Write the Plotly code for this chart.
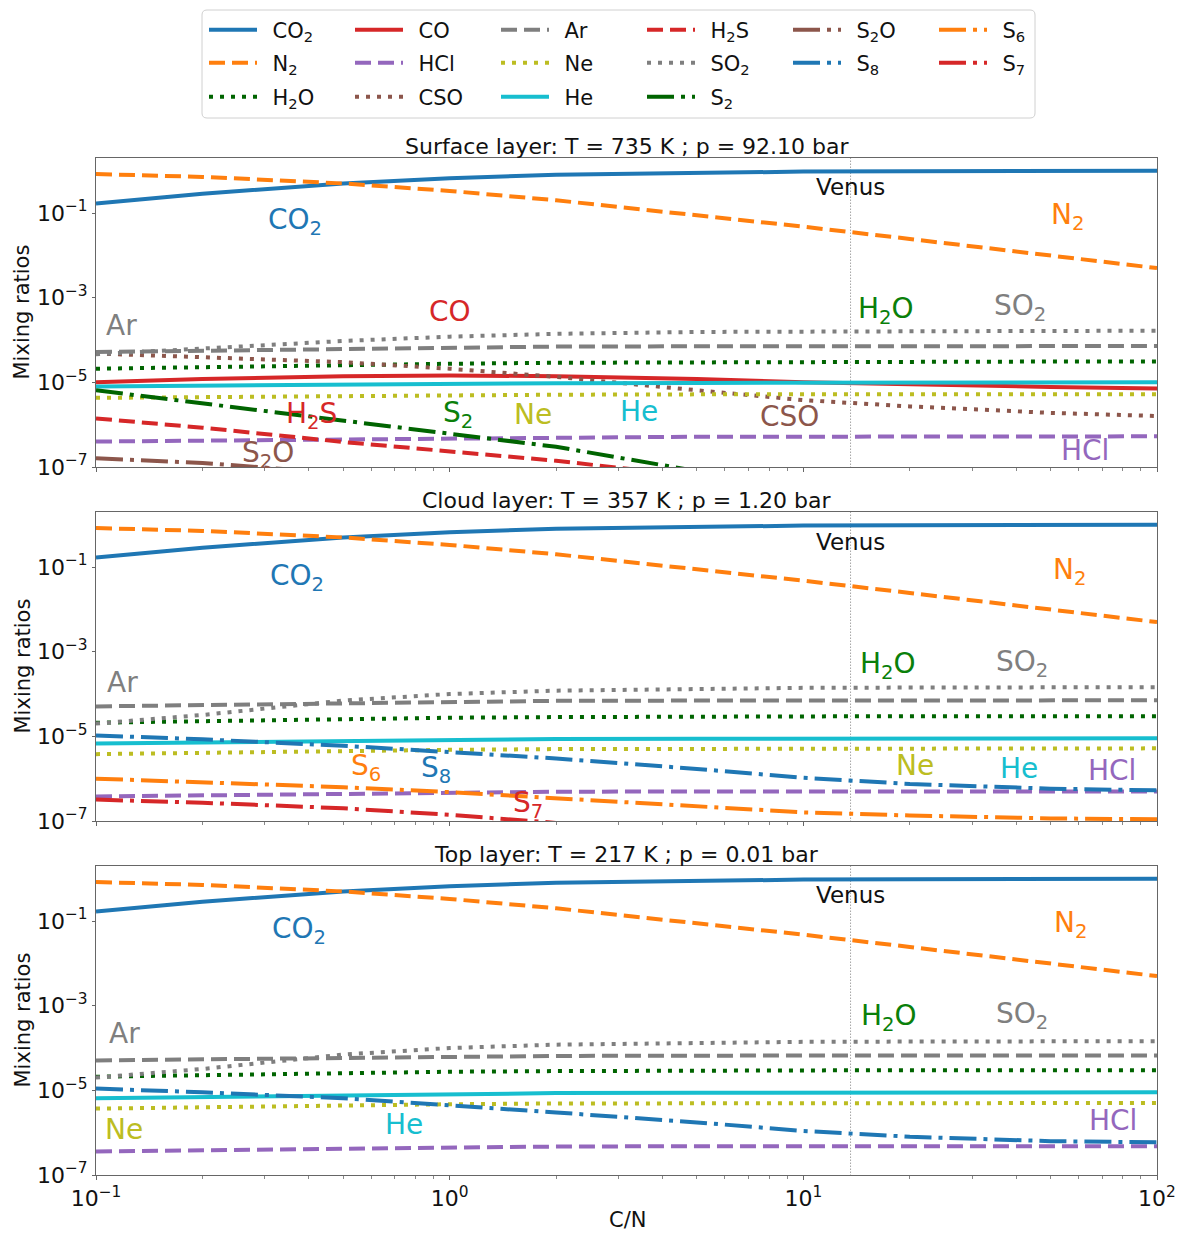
import numpy as np
import plotly.graph_objects as go

# ---------------- data ----------------
CN = [0.1, 0.2, 0.5, 1, 2, 5, 10, 20, 50, 100]
VENUS_CN = 13.6

CO2 = [0.167, 0.286, 0.5, 0.667, 0.8, 0.909, 0.952, 0.976, 0.990, 0.995]
N2 = [0.833, 0.714, 0.5, 0.333, 0.2, 0.0909, 0.0476, 0.0244, 0.0099, 0.0050]

# Surface layer
AR_SURF = [5.2e-5, 5.6e-5, 6.2e-5, 6.7e-5, 7.0e-5, 7.1e-5, 7.2e-5, 7.2e-5, 7.2e-5, 7.2e-5]
SO2_SURF = [4.6e-5, 6.2e-5, 9.5e-5, 1.2e-4, 1.4e-4, 1.55e-4, 1.6e-4, 1.62e-4, 1.64e-4, 1.65e-4]
H2O_SURF = [2.1e-5, 2.3e-5, 2.6e-5, 2.75e-5, 2.9e-5, 3.0e-5, 3.05e-5, 3.1e-5, 3.1e-5, 3.1e-5]
CO_SURF = [1.0e-5, 1.2e-5, 1.4e-5, 1.45e-5, 1.4e-5, 1.2e-5, 1.0e-5, 8.8e-6, 7.8e-6, 7.2e-6]
HE_SURF = [8.0e-6, 8.4e-6, 8.9e-6, 9.2e-6, 9.5e-6, 9.7e-6, 9.8e-6, 9.9e-6, 1.0e-5, 1.0e-5]
NE_SURF = [4.3e-6, 4.5e-6, 4.8e-6, 5.0e-6, 5.1e-6, 5.2e-6, 5.2e-6, 5.2e-6, 5.2e-6, 5.2e-6]
CSO_SURF = [4.8e-5, 4.0e-5, 3.0e-5, 2.1e-5, 1.35e-5, 6.5e-6, 3.8e-6, 2.7e-6, 1.9e-6, 1.6e-6]
H2S_SURF = [1.4e-6, 8.5e-7, 3.9e-7, 2.4e-7, 1.4e-7, 6.0e-8, 3.5e-8, 2.0e-8, 1.0e-8, 5.0e-9]
S2_SURF = [6.5e-6, 3.2e-6, 1.3e-6, 6.3e-7, 3.0e-7, 8.0e-8, 2.0e-8, 5.0e-9, 1.0e-9, 3.0e-10]
HCL_SURF = [4.0e-7, 4.2e-7, 4.6e-7, 4.9e-7, 5.1e-7, 5.2e-7, 5.2e-7, 5.3e-7, 5.3e-7, 5.3e-7]
S2O_SURF = [1.6e-7, 1.25e-7, 7.0e-8, 4.0e-8, 2.0e-8, 8.0e-9, 4.0e-9, 2.0e-9, 8.0e-10, 4.0e-10]

# Cloud layer
AR_CLOUD = [5.1e-5, 5.5e-5, 6.1e-5, 6.6e-5, 6.9e-5, 7.0e-5, 7.1e-5, 7.1e-5, 7.1e-5, 7.1e-5]
SO2_CLOUD = [2.0e-5, 3.2e-5, 7.0e-5, 1.0e-4, 1.2e-4, 1.35e-4, 1.4e-4, 1.42e-4, 1.44e-4, 1.45e-4]
H2O_CLOUD = [2.1e-5, 2.3e-5, 2.6e-5, 2.75e-5, 2.85e-5, 2.95e-5, 3.0e-5, 3.0e-5, 3.0e-5, 3.0e-5]
HE_CLOUD = [6.8e-6, 7.2e-6, 7.8e-6, 8.3e-6, 8.6e-6, 8.8e-6, 8.9e-6, 9.0e-6, 9.0e-6, 9.0e-6]
NE_CLOUD = [3.8e-6, 4.1e-6, 4.5e-6, 4.8e-6, 5.0e-6, 5.1e-6, 5.2e-6, 5.2e-6, 5.2e-6, 5.2e-6]
S8_CLOUD = [1.05e-5, 8.5e-6, 6.0e-6, 4.3e-6, 3.0e-6, 1.7e-6, 1.05e-6, 7.5e-7, 5.8e-7, 5.3e-7]
S6_CLOUD = [1.0e-6, 8.3e-7, 6.3e-7, 4.8e-7, 3.4e-7, 2.2e-7, 1.6e-7, 1.35e-7, 1.15e-7, 1.1e-7]
S7_CLOUD = [3.2e-7, 2.7e-7, 2.0e-7, 1.4e-7, 9.0e-8, 4.0e-8, 2.0e-8, 1.0e-8, 4.0e-9, 2.0e-9]
HCL_CLOUD = [3.8e-7, 4.0e-7, 4.4e-7, 4.7e-7, 4.9e-7, 5.0e-7, 5.0e-7, 5.0e-7, 5.0e-7, 5.0e-7]

# Top layer
AR_TOP = [5.1e-5, 5.4e-5, 5.9e-5, 6.3e-5, 6.5e-5, 6.6e-5, 6.7e-5, 6.7e-5, 6.7e-5, 6.7e-5]
SO2_TOP = [2.0e-5, 3.2e-5, 7.0e-5, 1.0e-4, 1.2e-4, 1.35e-4, 1.4e-4, 1.42e-4, 1.44e-4, 1.45e-4]
H2O_TOP = [2.1e-5, 2.3e-5, 2.6e-5, 2.75e-5, 2.85e-5, 2.95e-5, 3.0e-5, 3.0e-5, 3.0e-5, 3.0e-5]
HE_TOP = [6.5e-6, 7.0e-6, 7.7e-6, 8.2e-6, 8.6e-6, 8.8e-6, 8.9e-6, 9.0e-6, 9.0e-6, 9.0e-6]
NE_TOP = [3.7e-6, 4.0e-6, 4.4e-6, 4.7e-6, 4.9e-6, 5.0e-6, 5.0e-6, 5.0e-6, 5.0e-6, 5.0e-6]
S8_TOP = [1.1e-5, 9.0e-6, 6.5e-6, 4.5e-6, 3.0e-6, 1.75e-6, 1.1e-6, 8.0e-7, 6.3e-7, 5.9e-7]
HCL_TOP = [3.6e-7, 3.8e-7, 4.2e-7, 4.5e-7, 4.7e-7, 4.8e-7, 4.8e-7, 4.8e-7, 4.8e-7, 4.8e-7]

PANEL_TITLES = ["Surface layer: T = 735 K ; p = 92.10 bar",
                "Cloud layer: T = 357 K ; p = 1.20 bar",
                "Top layer: T = 217 K ; p = 0.01 bar"]

PANELS = [
    {"CO2": CO2, "N2": N2, "H2O": H2O_SURF, "CO": CO_SURF, "HCl": HCL_SURF,
     "CSO": CSO_SURF, "Ar": AR_SURF, "Ne": NE_SURF, "He": HE_SURF,
     "H2S": H2S_SURF, "SO2": SO2_SURF, "S2": S2_SURF, "S2O": S2O_SURF},
    {"CO2": CO2, "N2": N2, "H2O": H2O_CLOUD, "HCl": HCL_CLOUD, "Ar": AR_CLOUD,
     "Ne": NE_CLOUD, "He": HE_CLOUD, "SO2": SO2_CLOUD, "S8": S8_CLOUD,
     "S6": S6_CLOUD, "S7": S7_CLOUD},
    {"CO2": CO2, "N2": N2, "H2O": H2O_TOP, "HCl": HCL_TOP, "Ar": AR_TOP,
     "Ne": NE_TOP, "He": HE_TOP, "SO2": SO2_TOP, "S8": S8_TOP},
]

SPECIES = ["CO2", "N2", "H2O", "CO", "HCl", "CSO", "Ar", "Ne", "He",
           "H2S", "SO2", "S2", "S2O", "S8", "S6", "S7"]
NAMES = {"CO2": "CO<sub>2</sub>", "N2": "N<sub>2</sub>", "H2O": "H<sub>2</sub>O",
         "CO": "CO", "HCl": "HCl", "CSO": "CSO", "Ar": "Ar", "Ne": "Ne", "He": "He",
         "H2S": "H<sub>2</sub>S", "SO2": "SO<sub>2</sub>", "S2": "S<sub>2</sub>",
         "S2O": "S<sub>2</sub>O", "S8": "S<sub>8</sub>", "S6": "S<sub>6</sub>",
         "S7": "S<sub>7</sub>"}

# label positions (C/N, mixing ratio) for each panel
LABELS = [
    [("CO2", 0.366, 0.062), ("N2", 56, 0.085), ("CO", 1.0, 4.7e-4), ("Ar", 0.118, 2.2e-4),
     ("H2O", 17.1, 4.9e-4), ("SO2", 40.9, 5.8e-4), ("H2S", 0.408, 1.66e-6),
     ("S2", 1.055, 1.77e-6), ("Ne", 1.72, 1.77e-6), ("He", 3.43, 2.1e-6),
     ("CSO", 9.16, 1.58e-6), ("S2O", 0.306, 2.0e-7), ("HCl", 62.5, 2.4e-7)],
    [("CO2", 0.37, 0.056), ("N2", 56.5, 0.078), ("Ar", 0.119, 1.9e-4), ("H2O", 17.3, 4.7e-4),
     ("SO2", 41.4, 5.2e-4), ("S6", 0.58, 1.85e-6), ("S8", 0.914, 1.66e-6),
     ("S7", 1.66, 2.5e-7), ("Ne", 20.7, 2.1e-6), ("He", 40.7, 1.77e-6), ("HCl", 74.5, 1.58e-6)],
    [("CO2", 0.375, 0.06), ("N2", 57, 0.083), ("Ar", 0.12, 2.2e-4), ("H2O", 17.5, 5.2e-4),
     ("SO2", 41.6, 5.9e-4), ("Ne", 0.12, 1.2e-6), ("He", 0.743, 1.58e-6), ("HCl", 75, 1.96e-6)],
]
VENUS_LABEL_Y = [0.41, 0.40, 0.41]

# ---------------- styles ----------------
DASH = "16px,7px"
DOT = "4px,7px"
DASHDOT = "27px,7px,4px,7px"
STYLE = {
    "CO2": ("#1f77b4", "solid"), "N2": ("#ff7f0e", DASH), "H2O": ("#006400", DOT),
    "CO": ("#d62728", "solid"), "HCl": ("#9467bd", DASH), "CSO": ("#8c564b", DOT),
    "Ar": ("#7f7f7f", DASH), "Ne": ("#bcbd22", DOT), "He": ("#17becf", "solid"),
    "H2S": ("#d62728", DASH), "SO2": ("#7f7f7f", DOT), "S2": ("#006400", DASHDOT),
    "S2O": ("#8c564b", DASHDOT), "S8": ("#1f77b4", DASHDOT), "S6": ("#ff7f0e", DASHDOT),
    "S7": ("#d62728", DASHDOT),
}
LABEL_COLOR = {k: v[0] for k, v in STYLE.items()}
LABEL_COLOR["H2O"] = "#0a800a"
LABEL_COLOR["S2"] = "#0a800a"

LEGEND_ROWS = [["CO2", "CO", "Ar", "H2S", "S2O", "S6"],
               ["N2", "HCl", "Ne", "SO2", "S8", "S7"],
               ["H2O", "CSO", "He", "S2"]]
LEG_OF = {}
for r, row in enumerate(LEGEND_ROWS):
    for c, sp in enumerate(row):
        LEG_OF[sp] = ("legend" if r == 0 else f"legend{r + 1}", c)

FONT = "DejaVu Sans"
W, H = 1184, 1233
ML, MR = 96, 27
PW = W - ML - MR
PANEL_PX = [(158, 467), (512, 821), (866, 1175)]


def py(px):
    return 1 - px / H


def pxx(px):
    return (px - ML) / PW


fig = go.Figure()
shown = set()
for p, data in enumerate(PANELS):
    sfx = "" if p == 0 else str(p + 1)
    # Venus reference line
    fig.add_trace(go.Scatter(x=[VENUS_CN, VENUS_CN], y=[1e-9, 10], mode="lines",
                             line=dict(color="#777777", width=1, dash="1px,2px"),
                             showlegend=False, hoverinfo="skip",
                             xaxis="x" + sfx, yaxis="y" + sfx))
    for sp in SPECIES:
        if sp not in data:
            continue
        color, dash = STYLE[sp]
        leg, rank = LEG_OF[sp]
        fig.add_trace(go.Scatter(
            x=CN, y=data[sp], mode="lines", name="\u2002" + NAMES[sp],
            line=dict(color=color, width=4, dash=dash),
            showlegend=sp not in shown, legend=leg, legendrank=rank + 1,
            xaxis="x" + sfx, yaxis="y" + sfx))
        shown.add(sp)

annotations = []
for p in range(3):
    sfx = "" if p == 0 else str(p + 1)
    for sp, lx, ly in LABELS[p]:
        annotations.append(dict(text=NAMES[sp], x=np.log10(lx), y=np.log10(ly),
                                xref="x" + sfx, yref="y" + sfx, showarrow=False,
                                xanchor="center", yanchor="middle",
                                font=dict(family=FONT, size=28, color=LABEL_COLOR[sp])))
    annotations.append(dict(text="Venus", x=np.log10(VENUS_CN), y=np.log10(VENUS_LABEL_Y[p]),
                            xref="x" + sfx, yref="y" + sfx, showarrow=False,
                            xanchor="center", yanchor="middle",
                            font=dict(family=FONT, size=23, color="#111111")))
    top, bot = PANEL_PX[p]
    annotations.append(dict(text=PANEL_TITLES[p], x=0.5, y=py(top + 3), xref="paper", yref="paper",
                            showarrow=False, xanchor="center", yanchor="bottom",
                            font=dict(family=FONT, size=22, color="#111111")))
    annotations.append(dict(text="Mixing ratios", x=pxx(22), y=py((top + bot) / 2),
                            xref="paper", yref="paper", showarrow=False, textangle=-90,
                            xanchor="center", yanchor="middle",
                            font=dict(family=FONT, size=21, color="#111111")))
annotations.append(dict(text="C/N", x=pxx(627), y=py(1220), xref="paper", yref="paper",
                        showarrow=False, xanchor="center", yanchor="middle",
                        font=dict(family=FONT, size=21, color="#111111")))

minor_vals = [m * 10.0 ** e for e in (-1, 0, 1) for m in range(2, 10)]
layout = dict(width=W, height=H, margin=dict(l=ML, r=MR, t=0, b=0),
              paper_bgcolor="white", plot_bgcolor="white",
              font=dict(family=FONT, size=21, color="#111111"),
              annotations=annotations)

for p in range(3):
    sfx = "" if p == 0 else str(p + 1)
    top, bot = PANEL_PX[p]
    layout["xaxis" + sfx] = dict(
        type="log", range=[-1, 2], domain=[0, 1], anchor="y" + sfx,
        showline=True, mirror=True, linecolor="#666666", linewidth=1,
        showgrid=False, zeroline=False, ticks="outside", ticklen=4, tickcolor="#666666",
        tickvals=[0.1, 1, 10, 100],
        ticktext=["10<sup>−1</sup>", "10<sup>0</sup>", "10<sup>1</sup>", "10<sup>2</sup>"],
        showticklabels=(p == 2), tickfont=dict(size=22, color="#111111"),
        minor=dict(tickvals=minor_vals, ticks="outside", ticklen=3, tickcolor="#888888"),
        automargin=False)
    layout["yaxis" + sfx] = dict(
        type="log", range=[-7, 0.3], domain=[py(bot), py(top)], anchor="x" + sfx,
        showline=True, mirror=True, linecolor="#666666", linewidth=1,
        showgrid=False, zeroline=False, ticks="outside", ticklen=3, tickcolor="#666666",
        tickvals=[1e-7, 1e-5, 1e-3, 1e-1],
        ticktext=["10<sup>−7</sup>", "10<sup>−5</sup>", "10<sup>−3</sup>", "10<sup>−1</sup>"],
        tickfont=dict(size=22, color="#111111"), automargin=False)

ROW_Y = [30, 63, 97]
for r in range(3):
    name = "legend" if r == 0 else f"legend{r + 1}"
    layout[name] = dict(orientation="h", x=pxx(204), xanchor="left", y=py(ROW_Y[r]),
                        yanchor="middle", entrywidth=83, entrywidthmode="pixels",
                        itemwidth=48, bgcolor="rgba(0,0,0,0)", borderwidth=0,
                        font=dict(family=FONT, size=21, color="#111111"),
                        traceorder="normal")

# legend frame (rounded rectangle)
x0, x1 = pxx(202), pxx(1035)
y0, y1 = py(118), py(10)
rx, ry = 5 / PW, 5 / H
path = (f"M {x0 + rx},{y0} L {x1 - rx},{y0} Q {x1},{y0} {x1},{y0 + ry} "
        f"L {x1},{y1 - ry} Q {x1},{y1} {x1 - rx},{y1} L {x0 + rx},{y1} "
        f"Q {x0},{y1} {x0},{y1 - ry} L {x0},{y0 + ry} Q {x0},{y0} {x0 + rx},{y0} Z")
layout["shapes"] = [dict(type="path", path=path, xref="paper", yref="paper",
                         line=dict(color="#d0d0d0", width=1), fillcolor="white", layer="below")]

fig.update_layout(**layout)
fig.write_html("out.html")
